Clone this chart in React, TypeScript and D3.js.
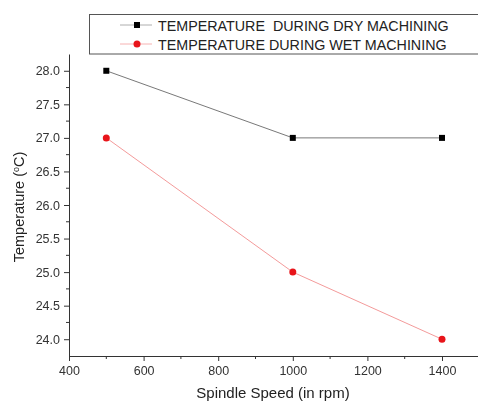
import * as d3 from "d3";
import { useRef, useEffect } from "react";

const speeds = [500, 1000, 1400];
const dryTemp = [28.0, 27.0, 27.0];
const wetTemp = [27.0, 25.0, 24.0];
const xTicks = [400, 600, 800, 1000, 1200, 1400];
const yTicks = [24.0, 24.5, 25.0, 25.5, 26.0, 26.5, 27.0, 27.5, 28.0];
const seriesNames = ["TEMPERATURE  DURING DRY MACHINING", "TEMPERATURE DURING WET MACHINING"];

export default function App() {
  const ref = useRef<SVGSVGElement>(null);
  const width = 478, height = 403;
  const margin = { left: 69, top: 54, right: 0, bottom: 47 };

  useEffect(() => {
    const svg = d3.select(ref.current);
    svg.selectAll("*").remove();
    const font = "'Liberation Sans', Arial, sans-serif";

    const x = d3.scaleLinear().domain([400, 1500]).range([margin.left, margin.left + 1100 * 0.373]);
    const y = d3.scaleLinear().domain([23.75, 28.25]).range([height - margin.bottom, margin.top]);

    // x axis
    const gx = svg.append("g").attr("transform", `translate(0,${height - margin.bottom})`);
    gx.call(d3.axisBottom(x).tickValues(xTicks).tickSize(5).tickSizeOuter(0).tickPadding(5).tickFormat(d3.format("d")));
    gx.selectAll(".tick line").attr("stroke", "#333");
    gx.select(".domain").attr("stroke", "#333");
    gx.selectAll("text").style("font", `12.5px ${font}`).attr("fill", "#333");
    gx.selectAll(".minor").data(d3.range(500, 1500, 200)).enter().append("line")
      .attr("x1", (d) => x(d)).attr("x2", (d) => x(d)).attr("y1", 0).attr("y2", 3).attr("stroke", "#333");

    // y axis
    const gy = svg.append("g").attr("transform", `translate(${margin.left},0)`);
    gy.call(d3.axisLeft(y).tickValues(yTicks).tickSize(5).tickSizeOuter(0).tickPadding(4).tickFormat(d3.format(".1f")));
    gy.selectAll(".tick line").attr("stroke", "#333");
    gy.select(".domain").attr("stroke", "#333");
    gy.selectAll("text").style("font", `12.5px ${font}`).attr("fill", "#333");
    gy.selectAll(".minor").data(d3.range(24.25, 28.25, 0.5)).enter().append("line")
      .attr("y1", (d) => y(d)).attr("y2", (d) => y(d)).attr("x1", 0).attr("x2", -3).attr("stroke", "#333");

    // axis titles
    svg.append("text").attr("x", 273).attr("y", 398).attr("text-anchor", "middle")
      .style("font", `15px ${font}`).attr("fill", "#222").text("Spindle Speed (in rpm)");
    const yt = svg.append("text").attr("transform", `translate(24,207) rotate(-90)`).attr("text-anchor", "middle")
      .style("font", `14.5px ${font}`).attr("fill", "#222");
    yt.append("tspan").text("Temperature (");
    yt.append("tspan").attr("dy", -5).style("font-size", "9px").text("o");
    yt.append("tspan").attr("dy", 5).text("C)");

    const dry = speeds.map((s, i) => [s, dryTemp[i]] as [number, number]);
    const wet = speeds.map((s, i) => [s, wetTemp[i]] as [number, number]);
    const line = d3.line<[number, number]>().x((d) => x(d[0])).y((d) => y(d[1]));

    svg.append("path").attr("d", line(dry)).attr("fill", "none").attr("stroke", "#555").attr("stroke-width", 0.8);
    svg.append("path").attr("d", line(wet)).attr("fill", "none").attr("stroke", "#f08080").attr("stroke-width", 0.8);

    svg.selectAll(".sq").data(dry).enter().append("rect")
      .attr("x", (d) => x(d[0]) - 3).attr("y", (d) => y(d[1]) - 3).attr("width", 6).attr("height", 6).attr("fill", "#000");
    svg.selectAll(".ci").data(wet).enter().append("circle")
      .attr("cx", (d) => x(d[0])).attr("cy", (d) => y(d[1])).attr("r", 3.5).attr("fill", "#e8141a");

    // legend
    svg.append("rect").attr("x", 89.5).attr("y", 14.5).attr("width", 400).attr("height", 39.5)
      .attr("fill", "#fff").attr("stroke", "#555").attr("stroke-width", 1);
    const rows = [25, 44];
    rows.forEach((ry, i) => {
      svg.append("line").attr("x1", 120).attr("x2", 152).attr("y1", ry).attr("y2", ry)
        .attr("stroke", i === 0 ? "#999" : "#f4a0a0").attr("stroke-width", 0.8);
      if (i === 0) svg.append("rect").attr("x", 134).attr("y", ry - 3).attr("width", 6).attr("height", 6).attr("fill", "#000");
      else svg.append("circle").attr("cx", 137).attr("cy", ry).attr("r", 3.5).attr("fill", "#e8141a");
      svg.append("text").attr("x", 158).attr("y", ry + 5.5).style("font", `14.3px ${font}`).attr("fill", "#222")
        .style("white-space", "pre").text(seriesNames[i]);
    });
  }, []);

  return (
    <svg ref={ref} width={width} height={height}
      style={{ display: "block", position: "fixed", left: 0, top: 0, overflow: "hidden" }} />
  );
}
